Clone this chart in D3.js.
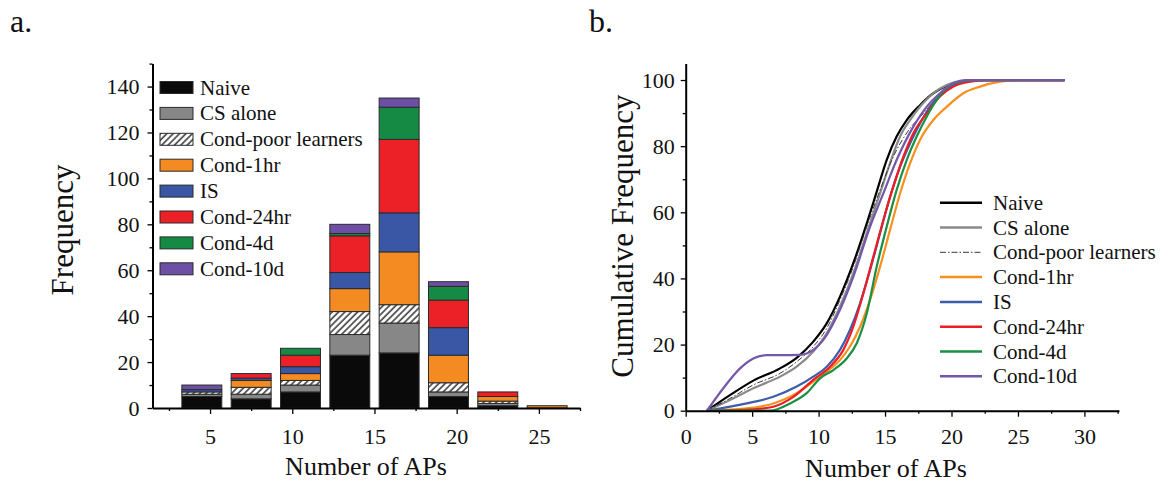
<!DOCTYPE html>
<html><head><meta charset="utf-8">
<script src="https://cdn.jsdelivr.net/npm/d3@7"></script>
<style>
body{margin:0;background:#fff;}
svg{display:block;font-family:"Liberation Serif","Times New Roman",serif;}
svg text{font-family:"Liberation Serif","Times New Roman",serif;}
</style></head><body>
<svg id="c" width="1175" height="491"></svg>
<script>
// ---------- data ----------
const seriesNames = ["Naive","CS alone","Cond-poor learners","Cond-1hr","IS","Cond-24hr","Cond-4d","Cond-10d"];
const binStarts = [3,6,9,12,15,18,21,24];
const naive        = [5,4,7,23,24,5,1,0];
const csAlone      = [1,2,3,9,13,2,1,0];
const poorLearners = [1,3,2,10,8,4,1,0];
const cond1hr      = [0,3,3,10,23,12,2,1];
const isGroup      = [1,1,3,7,17,12,0,0];
const cond24hr     = [0,2,5,16,32,12,2,0];
const cond4d       = [0,0,3,1,14,6,0,0];
const cond10d      = [2,0,0,4,4,2,0,0];

const aYTicks = [0,20,40,60,80,100,120,140];
const aYMinor = [10,30,50,70,90,110,130,150];
const aXTicks = [5,10,15,20,25];
const aXMinor = [2.5,7.5,12.5,17.5,22.5,27.5];
const bYTicks = [0,20,40,60,80,100];
const bYMinor = [10,30,50,70,90];
const bXTicks = [0,5,10,15,20,25,30];
const bXMinor = [2.5,7.5,12.5,17.5,22.5,27.5,32.5];

// cumulative frequency curves (x = number of APs, y = cumulative %)
const cumNaiveX = [1.6,3.33,5.09,7.10,8.35,9.60,10.61,11.61,12.61,13.62,14.37,15.12,15.87,16.63,17.63,18.63,19.64,20.89,22.14,28.5];
const cumNaiveY = [0,4.7,9.1,12.8,16.0,20.9,26.4,34.5,44.6,56.6,66.2,75.8,82.9,87.9,92.4,96.0,98.3,99.7,100,100];
const cumCsX = [1.6,3.33,5.09,7.10,8.35,9.60,10.61,11.61,12.61,13.62,14.62,15.37,16.13,16.88,17.63,18.63,19.64,20.89,22.14,28.5];
const cumCsY = [0,3.2,6.8,10.3,13.3,17.9,23.4,31.5,41.5,53.6,65.7,74.8,82.9,87.9,91.9,96.0,98.5,99.8,100,100];
const cumPoorX = [1.6,3.33,5.09,7.10,8.35,9.60,10.61,11.61,12.61,13.62,14.62,15.62,16.88,17.88,18.88,19.89,21.14,22.14,28.5];
const cumPoorY = [0,3.7,7.8,11.3,14.8,19.4,24.9,33.5,43.5,55.6,66.7,76.8,85.4,89.9,94.5,97.8,99.7,100,100];
const cum1hrX = [1.6,4.59,6.59,8.35,9.60,10.61,11.61,12.36,13.12,13.87,14.62,15.37,16.13,16.88,17.63,18.63,19.64,20.89,22.14,23.65,25.15,28.5];
const cum1hrY = [0,0.7,2.2,5.3,8.8,11.8,15.3,19.4,25.4,33.5,43.5,54.6,65.7,74.8,81.9,87.9,91.9,96.0,98.0,99.5,100,100];
const cumIsX = [1.6,4.59,6.59,8.35,9.60,10.61,11.61,12.36,13.12,13.87,14.62,15.37,16.13,16.88,17.63,18.38,19.13,20.14,21.14,22.14,28.5];
const cumIsY = [0,2.2,4.2,7.3,10.3,13.3,18.4,24.4,32.5,42.5,53.6,64.7,73.8,80.8,86.9,91.9,95.5,98.5,99.8,100,100];
const cum24hrX = [1.6,5.09,6.59,8.10,9.60,10.86,11.86,12.61,13.37,14.12,14.87,15.62,16.38,17.13,18.13,19.13,20.14,21.39,22.64,28.5];
const cum24hrY = [0,0.4,1.2,4.2,9.3,13.3,18.4,25.4,35.5,46.6,57.6,67.7,76.8,83.9,89.9,95.0,98.0,99.5,100,100];
const cum4dX = [1.6,6.34,7.85,9.10,10.11,11.11,12.11,12.87,13.62,14.37,15.12,15.87,16.63,17.38,18.13,18.88,19.64,20.64,21.64,28.5];
const cum4dY = [0,0,2.2,5.3,9.8,12.3,15.8,20.4,29.4,43.5,55.6,66.7,75.8,82.9,88.9,93.9,97.5,99.5,100,100];
const cum10dX = [1.6,2.83,4.09,5.09,6.09,7.10,8.60,9.60,10.36,11.36,12.61,13.87,14.87,15.87,17.13,18.13,19.13,20.14,21.14,28.5];
const cum10dY = [0,6.8,12.8,15.8,16.8,16.8,16.9,18.4,21.4,28.4,40.5,55.6,65.7,75.8,85.9,91.9,96.0,99.0,100,100];

// ---------- styles ----------
const FONT = "Liberation Serif, Times New Roman, serif";
const barFill = {"Naive":"#0a0a0a","CS alone":"#878787","Cond-poor learners":"url(#hatch)","Cond-1hr":"#f48a22",
  "IS":"#3a57a6","Cond-24hr":"#ec2128","Cond-4d":"#148a44","Cond-10d":"#6d50a6"};
const lineColor = {"Naive":"#000000","CS alone":"#8a8a8a","Cond-poor learners":"#3a3a3a","Cond-1hr":"#f7901e",
  "IS":"#3d5caa","Cond-24hr":"#ee1c25","Cond-4d":"#1a8f45","Cond-10d":"#7358aa"};

const svg = d3.select("#c");
const defs = svg.append("defs");
const pat = defs.append("pattern").attr("id","hatch").attr("patternUnits","userSpaceOnUse")
  .attr("width",4.5).attr("height",4.5).attr("patternTransform","rotate(45)");
pat.append("rect").attr("width",4.5).attr("height",4.5).attr("fill","#fff");
pat.append("line").attr("x1",1).attr("y1",0).attr("x2",1).attr("y2",4.5).attr("stroke","#4a4a4a").attr("stroke-width",1.7);

const FS_TICK = 22, FS_XTITLE = 26, FS_YTITLE = 31, FS_LEG = 21;

function styleAxis(g, fs){
  g.selectAll("text").attr("font-size",fs).attr("font-family",FONT).attr("fill","#111");
  g.selectAll(".tick line").attr("stroke","#000").attr("stroke-width",1.3);
  g.select(".domain").attr("stroke","#000").attr("stroke-width",2);
}
function txt(g){ return g.append("text").attr("font-family",FONT).attr("fill","#111"); }

// ---------- panel a ----------
const xA = d3.scaleLinear().domain([1.5,27.5]).range([152.5,580]);
const yA = d3.scaleLinear().domain([0,150]).range([408,63.6]);

const rows = binStarts.map((b,i)=>({bin:b,"Naive":naive[i],"CS alone":csAlone[i],"Cond-poor learners":poorLearners[i],
  "Cond-1hr":cond1hr[i],"IS":isGroup[i],"Cond-24hr":cond24hr[i],"Cond-4d":cond4d[i],"Cond-10d":cond10d[i]}));
const stacked = d3.stack().keys(seriesNames)(rows);
const binW = xA(3)-xA(0), barW = binW*0.81;
const gA = svg.append("g");
stacked.forEach(layer=>{
  gA.append("g").selectAll("rect").data(layer.filter(d=>d[1]>d[0])).join("rect")
    .attr("x",d=>xA(d.data.bin)+(binW-barW)/2)
    .attr("width",barW)
    .attr("y",d=>yA(d[1]))
    .attr("height",d=>yA(d[0])-yA(d[1]))
    .attr("fill",barFill[layer.key])
    .attr("stroke","#2b2b2b").attr("stroke-width",1);
});

const axAy = gA.append("g").attr("transform","translate(152.5,0)")
  .call(d3.axisLeft(yA).tickValues(aYTicks).tickSize(5).tickPadding(8).tickSizeOuter(0));
styleAxis(axAy, FS_TICK);
gA.append("g").attr("transform","translate(152.5,0)")
  .call(d3.axisLeft(yA).tickValues(aYMinor).tickSize(3).tickFormat(""))
  .call(g=>{g.select(".domain").remove(); g.selectAll("line").attr("stroke","#000").attr("stroke-width",1.3);});
const axAx = gA.append("g").attr("transform","translate(0,408)")
  .call(d3.axisBottom(xA).tickValues(aXTicks).tickSize(6).tickPadding(14).tickSizeOuter(0));
styleAxis(axAx, FS_TICK);
gA.append("g").attr("transform","translate(0,408)")
  .call(d3.axisBottom(xA).tickValues(aXMinor).tickSize(3).tickFormat(""))
  .call(g=>{g.select(".domain").remove(); g.selectAll("line").attr("stroke","#000").attr("stroke-width",1.3);});

txt(gA).attr("x",366).attr("y",475).attr("text-anchor","middle").attr("font-size",FS_XTITLE).text("Number of APs");
txt(gA).attr("transform","translate(73,230) rotate(-90)").attr("text-anchor","middle").attr("font-size",FS_YTITLE).text("Frequency");
txt(svg).attr("x",10).attr("y",32).attr("font-size",32).text("a.");

// legend a
const legA = gA.append("g");
seriesNames.forEach((s,i)=>{
  const cy = 87.5 + i*25.9;
  legA.append("rect").attr("x",160).attr("y",cy-6).attr("width",33).attr("height",12)
    .attr("fill",barFill[s]).attr("stroke","#2b2b2b").attr("stroke-width",1);
  txt(legA).attr("x",200).attr("y",cy+7).attr("font-size",FS_LEG).text(s);
});

// ---------- panel b ----------
const xB = d3.scaleLinear().domain([0,32.6]).range([685.7,685.7+32.6*13.29]);
const yB = d3.scaleLinear().domain([0,105]).range([410.7,63.5]);
const gB = svg.append("g");
const curves = [
  ["Naive",cumNaiveX,cumNaiveY],["CS alone",cumCsX,cumCsY],["Cond-poor learners",cumPoorX,cumPoorY],
  ["Cond-1hr",cum1hrX,cum1hrY],["IS",cumIsX,cumIsY],["Cond-24hr",cum24hrX,cum24hrY],
  ["Cond-4d",cum4dX,cum4dY],["Cond-10d",cum10dX,cum10dY]];
const line = d3.line().x(d=>xB(d[0])).y(d=>yB(d[1])).curve(d3.curveMonotoneX);
curves.forEach(([name,xs,ys])=>{
  const pts = xs.map((x,i)=>[x,ys[i]]);
  const p = gB.append("path").attr("d",line(pts)).attr("fill","none")
    .attr("stroke",lineColor[name]).attr("stroke-width",name==="Cond-poor learners"?1:2.2)
    .attr("stroke-linejoin","round");
  if(name==="Cond-poor learners") p.attr("stroke-dasharray","6,2,1.5,2");
});

const axBy = gB.append("g").attr("transform","translate(685.7,0)")
  .call(d3.axisLeft(yB).tickValues(bYTicks).tickSize(5).tickPadding(6).tickSizeOuter(0));
styleAxis(axBy, FS_TICK);
gB.append("g").attr("transform","translate(685.7,0)")
  .call(d3.axisLeft(yB).tickValues(bYMinor).tickSize(3).tickFormat(""))
  .call(g=>{g.select(".domain").remove(); g.selectAll("line").attr("stroke","#000").attr("stroke-width",1.3);});
const axBx = gB.append("g").attr("transform","translate(0,410.7)")
  .call(d3.axisBottom(xB).tickValues(bXTicks).tickSize(6).tickPadding(12).tickSizeOuter(0));
styleAxis(axBx, FS_TICK);
gB.append("g").attr("transform","translate(0,410.7)")
  .call(d3.axisBottom(xB).tickValues(bXMinor).tickSize(3).tickFormat(""))
  .call(g=>{g.select(".domain").remove(); g.selectAll("line").attr("stroke","#000").attr("stroke-width",1.3);});

txt(gB).attr("x",886).attr("y",477).attr("text-anchor","middle").attr("font-size",FS_XTITLE).text("Number of APs");
txt(gB).attr("transform","translate(633,236) rotate(-90)").attr("text-anchor","middle").attr("font-size",FS_YTITLE).text("Cumulative Frequency");
txt(svg).attr("x",589).attr("y",32).attr("font-size",32).text("b.");

// legend b
const legB = gB.append("g");
seriesNames.forEach((s,i)=>{
  const cy = 202.7 + i*24.8;
  const l = legB.append("line").attr("x1",940).attr("x2",982).attr("y1",cy).attr("y2",cy)
    .attr("stroke",lineColor[s]).attr("stroke-width",s==="Cond-poor learners"?1:2.5);
  if(s==="Cond-poor learners") l.attr("stroke-dasharray","6,2,1.5,2");
  txt(legB).attr("x",993).attr("y",cy+7).attr("font-size",FS_LEG).text(s);
});
</script></body></html>
